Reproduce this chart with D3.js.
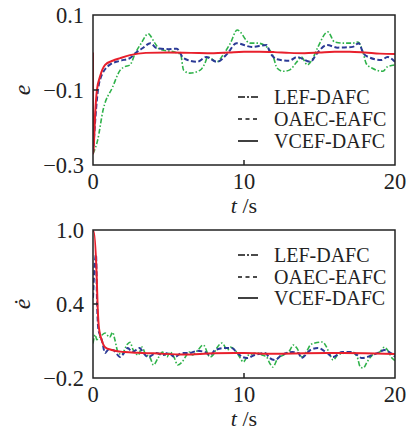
<!DOCTYPE html>
<html>
<head>
<meta charset="utf-8">
<script src="https://cdn.jsdelivr.net/npm/d3@7"></script>
<style>
  body { margin: 0; background: #fff; }
  svg text { font-family: "Liberation Serif", "Times New Roman", serif; fill: #222; }
</style>
</head>
<body>
<div class="chart"></div>
<script>
// legend names and tick labels
var seriesNames = ["LEF-DAFC", "OAEC-EAFC", "VCEF-DAFC"];
var xTicks = [0, 10, 20];
var eTicks = [0.1, -0.1, -0.3];
var deTicks = [1.0, 0.4, -0.2];

// e(t) — tracking error
var eGreenT = [0, 0.3, 0.67, 1.3, 1.8, 2.1, 2.45, 2.8, 3.2, 3.65, 4.1, 4.4, 5.5, 5.8, 6.0, 6.4, 7.1, 7.4, 7.6, 8.2, 8.6, 9.1, 9.55, 10.4, 10.9, 11.5, 11.9, 12.2, 12.6, 13.0, 13.5, 13.8, 14.2, 14.5, 14.9, 15.55, 16.0, 16.6, 17.2, 17.55, 17.9, 18.1, 18.5, 19.2, 19.5, 20];
var eGreen = [-0.27, -0.235, -0.153, -0.092, -0.047, -0.038, -0.033, -0.002, 0.025, 0.05, 0.025, 0.009, 0.0, -0.005, -0.047, -0.055, -0.047, -0.03, -0.012, -0.025, -0.007, 0.025, 0.06, 0.025, 0.025, 0.015, -0.007, -0.042, -0.05, -0.047, -0.025, -0.012, -0.033, -0.02, 0.015, 0.055, 0.028, 0.025, 0.025, 0.028, -0.002, -0.03, -0.042, -0.05, -0.038, -0.033];
var eBlueT = [0, 0.33, 0.46, 1.1, 1.8, 2.45, 2.8, 3.3, 3.8, 4.2, 5.0, 5.55, 6.0, 6.9, 7.5, 8.2, 8.9, 9.5, 10.5, 11.5, 11.7, 12.2, 13.0, 13.5, 14.4, 14.8, 15.5, 16.2, 17.2, 17.6, 17.9, 18.3, 19.1, 19.5, 20];
var eBlue = [-0.27, -0.1, -0.073, -0.033, -0.022, -0.015, -0.002, 0.012, 0.025, 0.012, 0.009, 0.01, -0.015, -0.025, -0.012, -0.025, -0.003, 0.025, 0.015, 0.02, 0.002, -0.018, -0.022, -0.012, -0.025, -0.004, 0.02, 0.013, 0.015, 0.025, -0.002, -0.013, -0.02, -0.012, -0.025];
var eRedT = [0, 0.01, 0.05, 0.15, 0.26, 0.46, 0.8, 1.3, 1.8, 2.45, 3.5, 5, 6.5, 8, 9, 10, 11, 12, 13, 14, 15, 16, 17, 18, 19, 20];
var eRed = [0.0, -0.27, -0.25, -0.16, -0.1, -0.065, -0.033, -0.022, -0.015, -0.007, -0.001, 0.0, -0.001, -0.002, 0.0, 0.002, 0.002, 0.001, -0.001, -0.002, 0.0, 0.002, 0.002, 0.0, -0.003, -0.004];

// de/dt — error derivative
var dGreenT = [0, 0.15, 0.25, 0.45, 0.8, 1.1, 1.3, 1.45, 1.65, 1.9, 2.25, 2.45, 2.65, 3.0, 3.25, 3.45, 3.8, 4.0, 4.3, 4.6, 4.9, 5.1, 5.4, 5.6, 5.9, 6.2, 6.4, 6.6, 6.95, 7.3, 7.75, 7.95, 8.2, 8.55, 8.9, 9.1, 9.4, 9.75, 9.95, 10.3, 10.9, 11.2, 11.5, 11.7, 11.9, 12.25, 12.6, 13.05, 13.25, 13.5, 13.85, 14.2, 14.4, 14.7, 15.2, 15.5, 15.7, 15.9, 16.2, 16.7, 17.15, 17.5, 17.7, 17.9, 18.15, 18.5, 19.0, 19.3, 19.5, 19.8, 20];
var dGreen = [0.08, 0.15, 0.11, 0.13, 0.165, 0.13, 0.17, 0.11, 0.01, -0.01, 0.07, 0.09, 0.03, -0.014, 0.05, 0.0, -0.04, -0.095, -0.04, 0.01, -0.03, 0.01, -0.04, -0.095, -0.07, -0.014, 0.011, -0.014, 0.027, 0.068, -0.03, -0.014, 0.043, 0.084, 0.027, 0.05, 0.027, -0.038, -0.07, -0.014, 0.003, -0.014, -0.03, -0.079, -0.111, -0.038, -0.014, 0.027, 0.068, 0.043, -0.03, 0.027, 0.068, 0.084, 0.092, 0.043, -0.014, -0.054, -0.014, 0.003, 0.011, -0.03, -0.111, -0.119, -0.07, -0.014, 0.011, 0.05, 0.027, -0.038, -0.06];
var dBlueT = [0, 0.1, 0.2, 0.27, 0.35, 0.46, 0.6, 0.8, 1.0, 1.32, 1.8, 2.1, 2.3, 2.6, 3.1, 3.3, 3.65, 4.2, 4.6, 5.0, 5.4, 5.9, 6.4, 6.9, 7.4, 7.75, 8.1, 8.75, 9.2, 9.5, 9.9, 10.2, 10.7, 11.4, 11.7, 12.05, 12.5, 13.2, 13.6, 13.8, 14.4, 14.9, 15.5, 15.9, 16.5, 17.15, 17.5, 17.8, 18.5, 19.0, 19.3, 19.7, 19.9, 20];
var dBlue = [0.45, 0.7, 0.8, 0.41, 0.2, 0.15, 0.1, 0.003, 0.027, 0.027, -0.03, 0.011, 0.043, 0.011, 0.043, 0.011, -0.03, 0.003, -0.014, 0.003, -0.03, 0.003, 0.003, 0.02, 0.011, -0.014, 0.027, 0.043, 0.043, 0.011, -0.03, -0.038, -0.014, 0.003, -0.038, -0.054, -0.014, 0.011, 0.003, -0.038, 0.027, 0.043, 0.003, -0.03, 0.011, 0.011, -0.014, -0.038, -0.014, 0.011, 0.027, 0.003, -0.014, -0.03];
var dRedT = [0, 0.05, 0.24, 0.31, 0.4, 0.57, 0.8, 1.24, 2.1, 3, 4, 6, 8, 10, 12, 14, 16, 18, 20];
var dRed = [0.99, 0.99, 0.64, 0.37, 0.2, 0.11, 0.05, 0.027, 0.01, 0.004, 0.0, -0.01, 0.0, 0.002, -0.003, 0.0, 0.002, 0.0, -0.005];

var colors = { green: "#2fb24a", blue: "#2b3a96", red: "#e8202c" };
var dashes = { green: "5,2,1.5,2", blue: "5,2.5", red: null };
var legendDash = ["7,2,2,2", "4,3.5", null];

var svg = d3.select(".chart").append("svg")
    .attr("width", 412).attr("height", 430);

function zip(t, v) {
  return t.map(function (d, i) { return [d, v[i]]; });
}

function panel(opts) {
  var x = d3.scaleLinear().domain([0, 20]).range([93, 395]);
  var y = d3.scaleLinear().domain(opts.domain).range([opts.bottom, opts.top]);
  var g = svg.append("g");

  var clipId = "clip" + opts.id;
  svg.append("clipPath").attr("id", clipId).append("rect")
      .attr("x", 93).attr("y", opts.top)
      .attr("width", 302).attr("height", opts.bottom - opts.top);

  var line = d3.line()
      .x(function (d) { return x(d[0]); })
      .y(function (d) { return y(d[1]); })
      .curve(d3.curveMonotoneX);

  opts.series.forEach(function (s) {
    g.append("path")
        .attr("clip-path", "url(#" + clipId + ")")
        .attr("d", line(zip(s.t, s.v)))
        .attr("fill", "none")
        .attr("stroke", colors[s.key])
        .attr("stroke-width", s.key == "green" ? 1.6 : 2)
        .attr("stroke-dasharray", dashes[s.key]);
  });

  // frame
  g.append("rect")
      .attr("x", 93).attr("y", opts.top)
      .attr("width", 302).attr("height", opts.bottom - opts.top)
      .attr("fill", "none").attr("stroke", "#222").attr("stroke-width", 1.5);

  // inward ticks (middle only)
  g.append("line").attr("x1", x(10)).attr("x2", x(10))
      .attr("y1", opts.bottom).attr("y2", opts.bottom - 5)
      .attr("stroke", "#222").attr("stroke-width", 1.5);
  g.append("line").attr("x1", 93).attr("x2", 98)
      .attr("y1", y(opts.ticks[1])).attr("y2", y(opts.ticks[1]))
      .attr("stroke", "#222").attr("stroke-width", 1.5);

  var fmt = d3.format(".1f");
  g.selectAll(".ytick").data(opts.ticks).enter().append("text")
      .attr("x", 84).attr("y", function (d) { return y(d); })
      .attr("dy", "0.35em")
      .attr("text-anchor", "end")
      .style("font-size", "22.5px")
      .text(function (d) { return fmt(d).replace("-", "\u2212"); });

  g.selectAll(".xtick").data(xTicks).enter().append("text")
      .attr("x", function (d) { return x(d); })
      .attr("y", opts.bottom + 24)
      .attr("text-anchor", "middle")
      .style("font-size", "22.5px")
      .text(function (d) { return d; });

  var xl = g.append("text")
      .attr("x", x(10)).attr("y", opts.bottom + 48)
      .attr("text-anchor", "middle")
      .style("font-size", "22px");
  xl.append("tspan").style("font-style", "italic").text("t");
  xl.append("tspan").text(" /s");

  g.append("text")
      .attr("transform", "translate(30," + opts.labelY + ") rotate(-90)")
      .attr("text-anchor", "middle")
      .style("font-size", "24px")
      .style("font-style", "italic")
      .text(opts.label);

  // legend
  opts.legendY.forEach(function (ly, i) {
    g.append("line")
        .attr("x1", 238).attr("x2", 258)
        .attr("y1", ly).attr("y2", ly)
        .attr("stroke", "#111").attr("stroke-width", 1.6)
        .attr("stroke-dasharray", legendDash[i]);
    g.append("text")
        .attr("x", 274).attr("y", ly).attr("dy", "0.35em")
        .style("font-size", "20px")
        .text(seriesNames[i]);
  });
}

panel({
  id: 1, top: 15, bottom: 165, domain: [-0.3, 0.1], ticks: eTicks,
  label: "e", labelY: 90, legendY: [97, 119, 141],
  series: [
    { key: "green", t: eGreenT, v: eGreen },
    { key: "blue", t: eBlueT, v: eBlue },
    { key: "red", t: eRedT, v: eRed }
  ]
});

panel({
  id: 2, top: 230, bottom: 378, domain: [-0.2, 1.0], ticks: deTicks,
  label: "\u0117", labelY: 304, legendY: [255, 277, 298],
  series: [
    { key: "green", t: dGreenT, v: dGreen },
    { key: "blue", t: dBlueT, v: dBlue },
    { key: "red", t: dRedT, v: dRed }
  ]
});
</script>
</body>
</html>
